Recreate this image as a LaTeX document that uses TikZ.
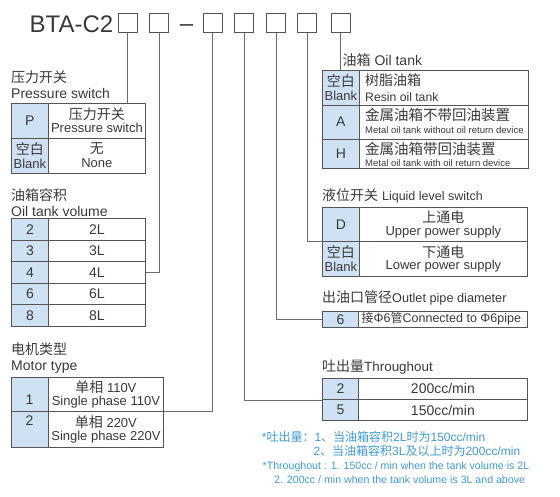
\documentclass[tikz,border=0pt]{standalone}
\usepackage{fontspec}
\setmainfont{Liberation Sans}
\newfontfamily\cjkf{Noto Sans CJK SC}
\newcommand\zh[1]{{\cjkf #1}}
\newcommand\zhb[1]{{\cjkf\fontsize{14}{13}\selectfont #1}}
\newcommand\fsz[1]{\fontsize{#1}{#1}\selectfont}
\definecolor{txt}{HTML}{3A3A3A}
\definecolor{bordc}{HTML}{555555}
\definecolor{linec}{HTML}{6A6A6A}
\definecolor{keyb}{HTML}{CFE2F3}
\definecolor{noteb}{HTML}{3D9BD8}
\begin{document}
\begin{tikzpicture}[x=1pt,y=-1pt,
  tb/.style={draw=bordc, line width=0.8pt, inner sep=0pt, anchor=north west, text=txt, align=center},
  key/.style={tb, fill=keyb},
  val/.style={tb, fill=white},
  lbl/.style={anchor=base west, inner sep=0pt, text=txt},
  tx/.style={inner sep=0pt, text=txt},
  conn/.style={draw=linec, line width=0.7pt},
  bx/.style={draw=bordc, line width=0.8pt, minimum width=19pt, minimum height=19pt, inner sep=0pt},
  note/.style={anchor=base west, inner sep=0pt, text=noteb}]
\useasboundingbox (0,0) rectangle (560,496);

% ---------- title ----------
\node[lbl, font=\fsz{24}] (title) at (29.5,32.5) {BTA-C2};
\node[bx] (b1) at (127.7,23) {};
\node[bx] (b2) at (159,23) {};
\node[tx, font=\fsz{24}, anchor=base] (dash) at (186.5,31) {\textendash};
\node[bx] (b3) at (212.7,23) {};
\node[bx] (b4) at (244,23) {};
\node[bx] (b5) at (276,23) {};
\node[bx] (b6) at (307,23) {};
\node[bx] (b7) at (340.5,23) {};

% ---------- pressure switch ----------
\node[lbl, font=\fsz{14}] (lp1) at (11,82) {\zh{压力开关}};
\node[lbl, font=\fsz{14}] (lp2) at (11,98) {Pressure switch};
\node[key, minimum width=37pt, minimum height=35pt, font=\fsz{14}] (pk1) at (11,102.5) {P};
\node[val, minimum width=97pt, minimum height=35pt, font=\fsz{13}] (pv1) at (48,102.5) {\zhb{压力开关}\\[0pt]Pressure switch};
\node[key, minimum width=37pt, minimum height=35pt, font=\fsz{13}] (pk2) at (11,137.5) {\zhb{空白}\\[1pt]Blank};
\node[val, minimum width=97pt, minimum height=35pt, font=\fsz{13}] (pv2) at (48,137.5) {\zhb{无}\\[1pt]None};

% ---------- oil tank volume ----------
\node[lbl, font=\fsz{14}] (lv1) at (11,200.5) {\zh{油箱容积}};
\node[lbl, font=\fsz{14}] (lv2) at (11,216) {Oil tank volume};
\node[key, minimum width=37pt, minimum height=21.6pt, font=\fsz{14}] (vk1) at (11,218) {2};
\node[val, minimum width=97pt, minimum height=21.6pt, font=\fsz{14}] (vv1) at (48,218) {2L};
\node[key, minimum width=37pt, minimum height=21.6pt, font=\fsz{14}] (vk2) at (11,239.6) {3};
\node[val, minimum width=97pt, minimum height=21.6pt, font=\fsz{14}] (vv2) at (48,239.6) {3L};
\node[key, minimum width=37pt, minimum height=21.6pt, font=\fsz{14}] (vk3) at (11,261.2) {4};
\node[val, minimum width=97pt, minimum height=21.6pt, font=\fsz{14}] (vv3) at (48,261.2) {4L};
\node[key, minimum width=37pt, minimum height=21.6pt, font=\fsz{14}] (vk4) at (11,282.8) {6};
\node[val, minimum width=97pt, minimum height=21.6pt, font=\fsz{14}] (vv4) at (48,282.8) {6L};
\node[key, minimum width=37pt, minimum height=21.6pt, font=\fsz{14}] (vk5) at (11,304.4) {8};
\node[val, minimum width=97pt, minimum height=21.6pt, font=\fsz{14}] (vv5) at (48,304.4) {8L};

% ---------- motor type ----------
\node[lbl, font=\fsz{14}] (lm1) at (11,354) {\zh{电机类型}};
\node[lbl, font=\fsz{14}] (lm2) at (11,370.5) {Motor type};
\node[key, minimum width=37pt, minimum height=34pt] (mk1) at (11,377) {};
\node[val, minimum width=115pt, minimum height=34pt, font=\fsz{13}] (mv1) at (48,377) {\zhb{单相} 110V\\[0pt]Single phase 110V};
\node[key, minimum width=37pt, minimum height=35.5pt] (mk2) at (11,411) {};
\node[val, minimum width=115pt, minimum height=35.5pt, font=\fsz{13}] (mv2) at (48,411) {\zhb{单相} 220V\\[0pt]Single phase 220V};
\node[tx, font=\fsz{14}] (mt1) at (29.5,400) {1};
\node[tx, font=\fsz{14}] (mt2) at (29.5,420.5) {2};

% ---------- oil tank ----------
\node[lbl, font=\fsz{14}] (lo) at (342.5,65) {\zh{油箱} Oil tank};
\node[key, minimum width=37pt, minimum height=35pt, font=\fsz{13}] (ok1) at (322,69.5) {\zhb{空白}\\[1pt]Blank};
\node[val, minimum width=168.5pt, minimum height=35pt] (ov1) at (359,69.5) {};
\node[key, minimum width=37pt, minimum height=34.5pt, font=\fsz{14}] (ok2) at (322,104.5) {A};
\node[val, minimum width=168.5pt, minimum height=34.5pt] (ov2) at (359,104.5) {};
\node[key, minimum width=37pt, minimum height=29pt, font=\fsz{14}] (ok3) at (322,139) {H};
\node[val, minimum width=168.5pt, minimum height=29pt] (ov3) at (359,139) {};
\node[lbl, font=\fsz{14}] (ot1a) at (365,85.7) {\zh{树脂油箱}};
\node[lbl, font=\fsz{12.2}] (ot1b) at (365,101.5) {Resin oil tank};
\node[lbl, font=\fsz{14.5}] (ot2a) at (365,120.8) {\zh{金属油箱不带回油装置}};
\node[lbl, font=\fsz{9.5}] (ot2b) at (365,133.3) {Metal oil tank without oil return device};
\node[lbl, font=\fsz{14.5}] (ot3a) at (365,154.3) {\zh{金属油箱带回油装置}};
\node[lbl, font=\fsz{9.5}] (ot3b) at (365,166.5) {Metal oil tank with oil return device};

% ---------- liquid level switch ----------
\node[lbl, font=\fsz{14}] (ll) at (322,200.5) {\zh{液位开关} {\fsz{12.5}Liquid level switch}};
\node[key, minimum width=37pt, minimum height=34.3pt, font=\fsz{14}] (lk1) at (322,206.7) {D};
\node[val, minimum width=168pt, minimum height=34.3pt, font=\fsz{13}] (lv1b) at (359,206.7) {\zhb{上通电}\\[-0.5pt]Upper power supply};
\node[key, minimum width=37pt, minimum height=35pt, font=\fsz{13}] (lk2) at (322,241) {\zhb{空白}\\[1pt]Blank};
\node[val, minimum width=168pt, minimum height=35pt, font=\fsz{13}] (lv2b) at (359,241) {\zhb{下通电}\\[-0.5pt]Lower power supply};

% ---------- outlet pipe diameter ----------
\node[lbl, font=\fsz{14}] (lop) at (322,302) {\zh{出油口管径}{\fsz{12.7}Outlet pipe diameter}};
\node[key, minimum width=36.3pt, minimum height=16.6pt, font=\fsz{14}] (pk) at (322,310.7) {6};
\node[val, minimum width=168.4pt, minimum height=16.6pt] (pv) at (358.3,310.7) {};
\node[tx, anchor=west, font=\fsz{12.5}] (pvt) at (361.5,319.2) {\zh{\fsz{12}接}Φ6\zh{\fsz{12}管}Connected to Φ6pipe};

% ---------- throughout ----------
\node[lbl, font=\fsz{14}] (lt) at (322,371.5) {\zh{吐出量}{\fsz{13.4}Throughout}};
\node[key, minimum width=36pt, minimum height=21.6pt, font=\fsz{14}] (tk1) at (322,377.7) {2};
\node[val, minimum width=169pt, minimum height=21.6pt, font=\fsz{14}] (tv1) at (358,377.7) {200cc/min};
\node[key, minimum width=36pt, minimum height=20.7pt, font=\fsz{14}] (tk2) at (322,399.3) {5};
\node[val, minimum width=169pt, minimum height=20.7pt, font=\fsz{14}] (tv2) at (358,399.3) {150cc/min};

% ---------- notes ----------
\node[note, font=\fsz{12}] (n1) at (261.7,441.5) {*\zh{吐出量：}1\zh{、当油箱容积}2L\zh{时为}150cc/min};
\node[note, font=\fsz{12}] (n2) at (313.3,455.5) {2\zh{、当油箱容积}3L\zh{及以上时为}200cc/min};
\node[note, font=\fsz{10.6}] (n3) at (262.5,469.3) {*Throughout : 1. 150cc / min when the tank volume is 2L};
\node[note, font=\fsz{10.6}] (n4) at (274,483.3) {2. 200cc / min when the tank volume is 3L and above};

% ---------- connectors ----------
\draw[conn] (b1.south) -- (b1.south |- pk1.north);
\draw[conn] (b2.south) |- (vv3.east);
\draw[conn] (b3.south) |- (mv1.south east);
\draw[conn] (b4.south) |- (tk1.south west);
\draw[conn] (b5.south) |- (pk.west);
\draw[conn] (b6.south) |- (lk1.south west);
\draw[conn] (b7.south) -- (b7.south |- ok1.north);
\end{tikzpicture}
\end{document}
